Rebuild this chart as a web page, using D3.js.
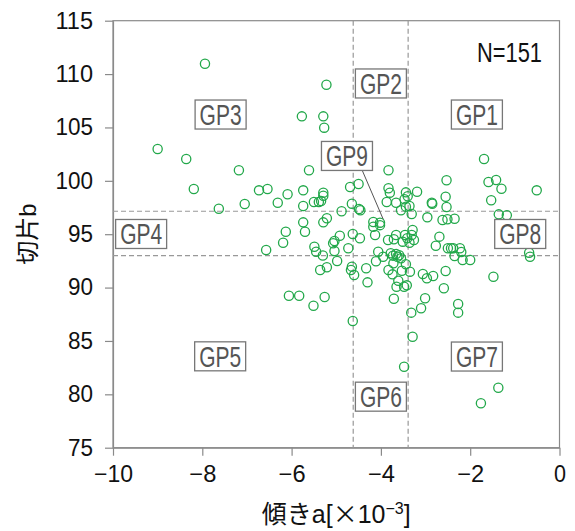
<!DOCTYPE html>
<html>
<head>
<meta charset="utf-8">
<script src="https://cdn.jsdelivr.net/npm/d3@7"></script>
<style>
  body { margin: 0; background: #fff; }
  text { font-family: "Liberation Sans", Arial, "Noto Sans CJK JP", sans-serif; }
</style>
</head>
<body>
<div id="chart"></div>
<script>
// slope a (x10^-3) of each sample
const slopeA = [
  -7.94, -5.22, -5.77, -5.29, -5.27, -9.00, -8.36, -7.18, -5.61, -8.19,
  -6.73, -6.54, -6.09, -5.74, -5.29, -5.50, -5.39, -5.34, -5.29, -6.31,
  -7.05, -7.63, -5.74, -5.74, -5.29, -5.21, -6.13, -5.70, -6.19, -6.57,
  -5.49, -5.45, -5.36, -5.21, -6.06, -5.83, -5.51, -5.26, -1.69, -3.83,
  -2.53, -1.59, -1.42, -1.30, -0.51, -1.53, -4.69, -4.50, -3.83, -3.80,
  -3.44, -3.19, -3.87, -3.66, -3.47, -3.44, -3.36, -3.55, -3.31, -4.65,
  -4.49, -4.46, -4.88, -4.17, -4.02, -2.86, -2.55, -2.53, -2.96, -2.62,
  -2.51, -2.35, -1.36, -1.18, -5.04, -5.07, -5.04, -4.92, -4.98, -4.73,
  -4.63, -4.47, -4.65, -4.67, -4.60, -4.30, -4.33, -4.63, -4.13, -4.17,
  -4.11, -4.06, -3.95, -3.84, -3.71, -3.66, -3.51, -3.46, -3.41, -3.31,
  -3.29, -3.26, -3.36, -3.78, -3.66, -3.63, -3.59, -3.72, -3.83, -3.53,
  -3.35, -3.44, -3.74, -3.61, -3.65, -3.48, -3.42, -3.71, -3.32, -3.29,
  -3.48, -3.06, -2.97, -2.83, -3.01, -3.10, -2.55, -2.59, -2.69, -2.77,
  -2.50, -2.43, -2.38, -2.23, -2.35, -2.20, -2.17, -2.00, -2.27, -2.27,
  -1.48, -0.68, -0.66, -1.37, -1.76, -3.73, -3.55, -4.02, -3.40, -5.30,
  -2.85
];
// intercept b of each sample
const interceptB = [
  110.97, 109.00, 106.04, 106.04, 104.98, 102.98, 102.04, 100.99, 100.99, 99.23,
  99.11, 99.23, 98.74, 99.11, 98.89, 98.02, 98.02, 98.11, 98.61, 97.95,
  97.83, 97.39, 97.64, 96.11, 96.11, 96.49, 95.23, 95.23, 94.20, 93.52,
  93.83, 93.36, 91.65, 91.90, 89.24, 89.24, 88.30, 89.12, 102.04, 100.99,
  100.05, 99.89, 100.08, 99.26, 99.11, 98.18, 99.42, 99.70, 99.30, 98.89,
  98.92, 98.98, 98.02, 97.95, 98.27, 97.58, 97.64, 97.24, 96.89, 97.86,
  97.36, 97.24, 97.15, 96.14, 96.08, 97.95, 98.51, 97.55, 96.58, 96.33,
  96.40, 96.45, 96.86, 96.77, 94.36, 94.15, 93.43, 94.86, 92.49, 93.68,
  95.02, 94.62, 91.96, 91.65, 91.18, 90.49, 91.81, 86.87, 94.92, 95.70,
  92.46, 93.36, 92.89, 94.45, 94.52, 94.92, 94.30, 94.92, 94.62, 94.92,
  95.39, 94.45, 94.20, 93.21, 93.15, 92.89, 93.03, 92.27, 91.65, 91.58,
  91.49, 92.18, 91.24, 90.64, 90.08, 90.08, 90.21, 88.96, 87.65, 85.40,
  82.59, 91.27, 90.87, 91.08, 89.00, 88.06, 91.55, 89.93, 94.77, 93.92,
  93.68, 93.68, 93.68, 93.68, 92.96, 93.33, 92.58, 92.58, 88.46, 87.65,
  91.02, 93.27, 92.89, 80.62, 79.16, 92.99, 92.75, 95.85, 98.55, 93.00,
  97.85
];

// group boundaries
const splitA = [-4.62, -3.39];
const splitB = [97.15, 93.0];

// group labels and where they sit
const groupNames = ["GP1", "GP2", "GP3", "GP4", "GP5", "GP6", "GP7", "GP8", "GP9"];
const groupA = [-1.85, -4.0, -7.59, -9.37, -7.60, -4.0, -1.85, -0.88, -4.76];
const groupB = [106.21, 109.12, 106.21, 95.02, 83.56, 79.78, 83.54, 95.02, 102.33];
// GP9 pointer: from box to cluster
const gp9Pointer = [[-4.42, 101.0], [-3.95, 96.42]];

const xTicks = [-10, -8, -6, -4, -2, 0];
const yTicks = [75, 80, 85, 90, 95, 100, 105, 110, 115];

const width = 575, height = 531;
const margin = { top: 20.7, right: 15.5, bottom: 83.3, left: 113 };
const gray = "#8a8a8a";

const svg = d3.select("#chart").append("svg")
    .attr("width", width)
    .attr("height", height);

const x = d3.scaleLinear().domain([-10, 0]).range([margin.left, width - margin.right]);
const y = d3.scaleLinear().domain([75, 115]).range([height - margin.bottom, margin.top]);

// frame
svg.append("rect")
    .attr("x", x(-10)).attr("y", y(115))
    .attr("width", x(0) - x(-10)).attr("height", y(75) - y(115))
    .attr("fill", "none").attr("stroke", gray).attr("stroke-width", 1.2);

// axes
const xAxis = svg.append("g")
    .attr("transform", "translate(0," + y(75) + ")")
    .call(d3.axisBottom(x).tickValues(xTicks).tickSize(8).tickSizeOuter(0).tickPadding(10));
const yAxis = svg.append("g")
    .attr("transform", "translate(" + x(-10) + ",0)")
    .call(d3.axisLeft(y).tickValues(yTicks).tickSize(8).tickSizeOuter(0).tickPadding(12));

[xAxis, yAxis].forEach(g => {
    g.select(".domain").attr("stroke", gray).attr("stroke-width", 1.2);
    g.selectAll(".tick line").attr("stroke", gray).attr("stroke-width", 1.2);
    g.selectAll(".tick text")
        .attr("fill", "#111")
        .style("font-size", "23px")
        .style("font-family", "'Liberation Sans', Arial, sans-serif");
});
// squeeze tick labels a little, like the narrow original font
yAxis.selectAll(".tick text")
    .attr("textLength", d => String(d).length * 12.5)
    .attr("lengthAdjust", "spacingAndGlyphs");
xAxis.selectAll(".tick text")
    .attr("textLength", d => d === 0 ? 12 : (d <= -10 ? 39 : 27))
    .attr("lengthAdjust", "spacingAndGlyphs");

// dashed split lines
svg.selectAll(".vsplit")
    .data(splitA)
    .enter().append("line")
    .attr("x1", d => x(d)).attr("x2", d => x(d))
    .attr("y1", y(115)).attr("y2", y(75))
    .attr("stroke", "#999").attr("stroke-width", 1.2).attr("stroke-dasharray", "5,3");
svg.selectAll(".hsplit")
    .data(splitB)
    .enter().append("line")
    .attr("x1", x(-10)).attr("x2", x(0))
    .attr("y1", d => y(d)).attr("y2", d => y(d))
    .attr("stroke", "#999").attr("stroke-width", 1.2).attr("stroke-dasharray", "5,3");

// points
svg.selectAll(".pt")
    .data(slopeA.map((a, i) => [a, interceptB[i]]))
    .enter().append("circle")
    .attr("class", "pt")
    .attr("cx", d => x(d[0]))
    .attr("cy", d => y(d[1]))
    .attr("r", 4.6)
    .attr("fill", "none")
    .attr("stroke", "#22a84a")
    .attr("stroke-width", 1.3);

// GP9 pointer
svg.append("line")
    .attr("x1", x(gp9Pointer[0][0])).attr("y1", y(gp9Pointer[0][1]))
    .attr("x2", x(gp9Pointer[1][0])).attr("y2", y(gp9Pointer[1][1]))
    .attr("stroke", "#555").attr("stroke-width", 1);

// group label boxes
const labels = svg.selectAll(".gp")
    .data(groupNames)
    .enter().append("g")
    .attr("class", "gp")
    .attr("transform", (d, i) => "translate(" + x(groupA[i]) + "," + y(groupB[i]) + ")");
labels.append("rect")
    .attr("x", -25.5).attr("y", -14.5)
    .attr("width", 51).attr("height", 29)
    .attr("fill", "#fff").attr("stroke", "#777").attr("stroke-width", 1.3);
labels.append("text")
    .attr("text-anchor", "middle")
    .attr("y", 10.5)
    .attr("fill", "#555")
    .attr("textLength", 42)
    .attr("lengthAdjust", "spacingAndGlyphs")
    .style("font-size", "29px")
    .text(d => d);

// N
svg.append("text")
    .attr("x", 542).attr("y", 62)
    .attr("text-anchor", "end")
    .attr("fill", "#111")
    .attr("textLength", 65)
    .attr("lengthAdjust", "spacingAndGlyphs")
    .style("font-size", "28px")
    .text("N=151");

// axis titles
const xt = svg.append("text")
    .attr("x", (x(-10) + x(0)) / 2).attr("y", 523)
    .attr("text-anchor", "middle")
    .attr("fill", "#111")
    .style("font-size", "25px");
xt.append("tspan").text("傾きa[");
xt.append("tspan").style("font-family", "'Noto Sans CJK JP', sans-serif").text("×");
xt.append("tspan").text("10");
xt.append("tspan").attr("dy", -9).style("font-size", "16px").text("−3");
xt.append("tspan").attr("dy", 9).text("]");

svg.append("text")
    .attr("transform", "translate(36," + ((y(75) + y(115)) / 2) + ") rotate(-90)")
    .attr("text-anchor", "middle")
    .attr("fill", "#111")
    .style("font-size", "24px")
    .text("切片b");
</script>
</body>
</html>
